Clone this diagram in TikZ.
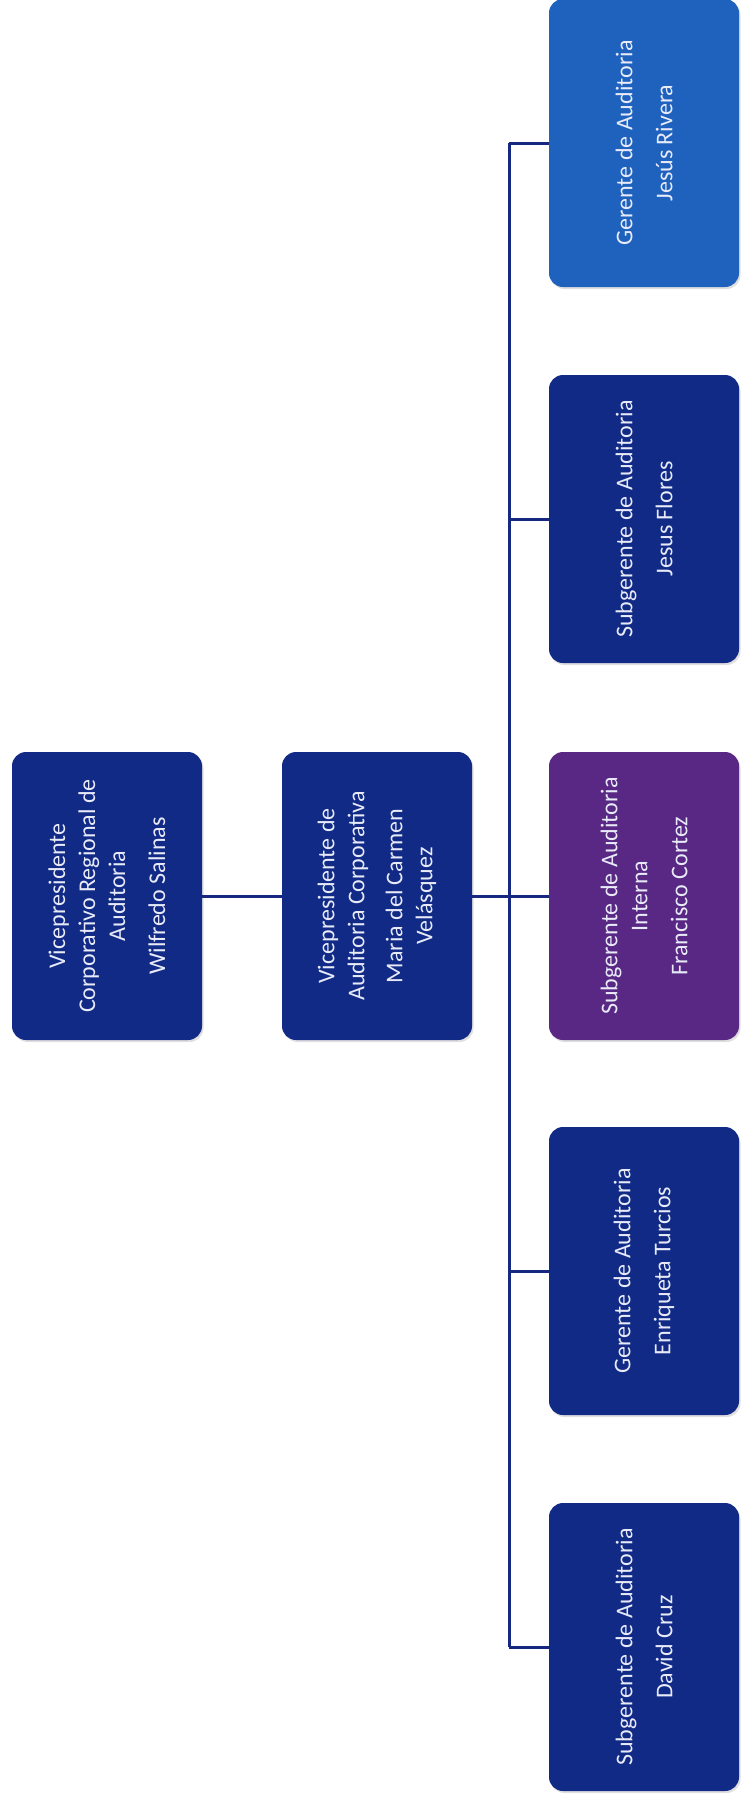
\documentclass[tikz,border=0pt]{standalone}
\usepackage{fontspec}
\setmainfont{Carlito}
\usetikzlibrary{positioning, shadows}
\definecolor{navy}{RGB}{16,42,134}
\definecolor{skyblue}{RGB}{30,98,190}
\definecolor{violet}{RGB}{88,40,132}
\definecolor{linkblue}{RGB}{22,40,128}
\definecolor{paletext}{RGB}{232,234,248}

\begin{document}
\begin{tikzpicture}[x=1pt, y=-1pt,
		cargo/.style={rectangle, rounded corners=14pt, fill=navy, rotate=90, minimum width=288pt, minimum height=190pt, inner sep=0pt, align=center, text=paletext, font=\fontsize{24}{30}\selectfont, drop shadow={opacity=0.25, shadow xshift=1.5pt, shadow yshift=-2pt}},
		link/.style={draw=linkblue, line width=3pt}
		]
		\useasboundingbox (0,0) rectangle (742,1800);
		% top of the chart
		\node [cargo] (wilfredo) at (107,896) {Vicepresidente\\Corporativo Regional de\\Auditoria\\[10pt]Wilfredo Salinas};
		\node [cargo] (maria) at (377,896) {Vicepresidente de\\Auditoria Corporativa\\[8pt]Maria del Carmen\\Velásquez};
		% reporting line
		\coordinate (bus) at (509,896);
		\node [cargo, fill=skyblue] (rivera) at (644,143) {Gerente de Auditoria\\[10pt]Jesús Rivera};
		\node [cargo] (flores) at (644,519) {Subgerente de Auditoria\\[10pt]Jesus Flores};
		\node [cargo, fill=violet] (cortez) at (644,896) {Subgerente de Auditoria\\Interna\\[10pt]Francisco Cortez};
		\node [cargo] (turcios) at (644,1271) {Gerente de Auditoria\\[10pt]Enriqueta Turcios};
		\node [cargo] (cruz) at (644,1647) {Subgerente de Auditoria\\[10pt]David Cruz};
		\draw [link] (wilfredo.south) -- (maria.north);
		\draw [link] (maria.south) -- (bus);
		\draw [link] (rivera.north -| bus) -- (cruz.north -| bus);
		\foreach \who in {rivera, flores, cortez, turcios, cruz}
			\draw [link] (\who.north) -- (\who.north -| bus);
	\end{tikzpicture}
\end{document}
